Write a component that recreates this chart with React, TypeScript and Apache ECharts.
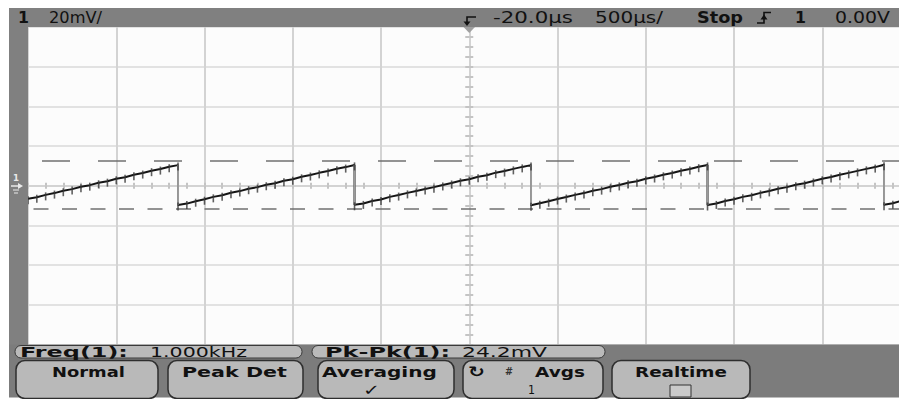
import React, { useEffect, useRef } from "react";
import * as echarts from "echarts";

// ---- scales (500 µs/div, 20 mV/div) ----
const timeMinMs = -2.5;
const timeMaxMs = 2.5;
const timeDivMs = 0.5;
const voltMinMv = -80;
const voltMaxMv = 80;
const voltDivMv = 20;

// ---- acquired trace (averaged samples) ----
const traceMs = [
  -2.5, -2.45, -2.4, -2.35, -2.3, -2.25, -2.2, -2.15, -2.1, -2.05, -2, -1.95, -1.9, -1.85, -1.8, -1.75, -1.7, -1.65,
  -1.65, -1.6, -1.55, -1.5, -1.45, -1.4, -1.35, -1.3, -1.25, -1.2, -1.15, -1.1, -1.05, -1, -0.95, -0.9, -0.85, -0.8, -0.75, -0.7, -0.65,
  -0.65, -0.6, -0.55, -0.5, -0.45, -0.4, -0.35, -0.3, -0.25, -0.2, -0.15, -0.1, -0.05, 0, 0.05, 0.1, 0.15, 0.2, 0.25, 0.3, 0.35,
  0.35, 0.4, 0.45, 0.5, 0.55, 0.6, 0.65, 0.7, 0.75, 0.8, 0.85, 0.9, 0.95, 1, 1.05, 1.1, 1.15, 1.2, 1.25, 1.3, 1.35,
  1.35, 1.4, 1.45, 1.5, 1.55, 1.6, 1.65, 1.7, 1.75, 1.8, 1.85, 1.9, 1.95, 2, 2.05, 2.1, 2.15, 2.2, 2.25, 2.3, 2.35,
  2.35, 2.4, 2.45,
];
const traceMv = [
  -6.6, -5.8, -4.6, -3.7, -2.5, -1.7, -0.5, 0.3, 1.5, 2.3, 3.5, 4.3, 5.5, 6.4, 7.6, 8.4, 9.6, 10.4,
  -9.7, -9.0, -7.8, -6.8, -5.6, -4.8, -3.5, -2.7, -1.5, -0.7, 0.5, 1.3, 2.5, 3.3, 4.5, 5.4, 6.5, 7.4, 8.6, 9.4, 10.5,
  -9.6, -8.9, -7.7, -6.9, -5.6, -4.7, -3.6, -2.6, -1.6, -0.7, 0.4, 1.4, 2.5, 3.3, 4.5, 5.3, 6.6, 7.4, 8.5, 9.5, 10.4,
  -9.8, -8.8, -7.8, -6.7, -5.7, -4.6, -3.7, -2.5, -1.7, -0.5, 0.4, 1.5, 2.3, 3.5, 4.4, 5.5, 6.4, 7.6, 8.4, 9.6, 10.5,
  -9.7, -8.9, -7.7, -6.8, -5.6, -4.8, -3.6, -2.6, -1.5, -0.7, 0.5, 1.3, 2.4, 3.5, 4.4, 5.5, 6.5, 7.5, 8.5, 9.4, 10.6,
  -9.6, -8.8, -7.6,
];

// falling edges of the sawtooth
const dropMs = [-1.65, -0.65, 0.35, 1.35, 2.35];
const dropTopMv = [10.4, 10.5, 10.4, 10.5, 10.6];
const dropBottomMv = [-9.7, -9.6, -9.8, -9.7, -9.6];

// Pk-Pk measurement cursors
const cursorMv = [12.4, -11.8];

// ---- texts ----
const headerLabels = ["1", "20mV/", "-20.0µs", "500µs/", "Stop", "1", "0.00V"];
const measureLabels = ["Freq(1):", "1.000kHz", "Pk-Pk(1):", "24.2mV"];
const softkeyLabels = ["Normal", "Peak Det", "Averaging", "Avgs", "Realtime"];
const softkeySubLabels = ["✓", "1"];

const FONT = '"DejaVu Sans", "Noto Sans", sans-serif';
let measureCtx: CanvasRenderingContext2D | null = null;
function fitText(text: string, x: number, xEnd: number, cy: number, size: number, bold: boolean, color = "#111", z = 110) {
  if (!measureCtx) measureCtx = document.createElement("canvas").getContext("2d");
  let sx = 1;
  if (measureCtx) {
    measureCtx.font = `${bold ? "bold " : ""}${size}px ${FONT}`;
    const w = measureCtx.measureText(text).width;
    if (w > 0) sx = (xEnd - x) / w;
  }
  return {
    type: "text",
    x,
    y: cy,
    scaleX: sx,
    z,
    silent: true,
    style: {
      text,
      fill: color,
      fontSize: size,
      fontWeight: bold ? "bold" : "normal",
      fontFamily: FONT,
      align: "left",
      verticalAlign: "middle",
    },
  };
}

function buildOption() {
  const gridBox = { left: 28, top: 27, width: 882.5, height: 317.5 };
  const grids = [0, 1, 2].map((i) => ({
    ...gridBox,
    show: i === 0,
    backgroundColor: "#fcfcfc",
    borderWidth: 0,
  }));
  const xBase = { type: "value", min: timeMinMs, max: timeMaxMs, interval: timeDivMs, axisLabel: { show: false } };
  const yBase = { type: "value", min: voltMinMv, max: voltMaxMv, interval: voltDivMv, axisLabel: { show: false } };
  const tickStyle = { color: "#c4c4c4", width: 2 };
  const xAxis = [
    {
      ...xBase,
      gridIndex: 0,
      axisLine: { show: false },
      axisTick: { show: false },
      splitLine: { show: true, lineStyle: { color: "#d3d3d3", width: 2 } },
    },
    ...[1, 2].map((g) => ({
      ...xBase,
      gridIndex: g,
      axisLine: { show: true, onZero: true, lineStyle: { color: "#d3d3d3", width: 2 } },
      axisTick: { show: true, inside: g === 1, length: 3, lineStyle: tickStyle },
      minorTick: { show: true, splitNumber: 5, length: 3, lineStyle: tickStyle },
      splitLine: { show: false },
    })),
  ];
  const yAxis = [
    {
      ...yBase,
      gridIndex: 0,
      axisLine: { show: false },
      axisTick: { show: false },
      splitLine: { show: true, lineStyle: { color: "#dadada", width: 1.5 } },
    },
    ...[1, 2].map((g) => ({
      ...yBase,
      gridIndex: g,
      axisLine: { show: true, onZero: true, lineStyle: { color: "#d3d3d3", width: 2 } },
      axisTick: { show: true, inside: g === 1, length: 4, lineStyle: tickStyle },
      minorTick: { show: true, splitNumber: 4, length: 4, lineStyle: tickStyle },
      splitLine: { show: false },
    })),
  ];

  const tracePairs = traceMs.map((t, i) => [t, traceMv[i]]);

  const series: any[] = [
    {
      type: "line",
      xAxisIndex: 0,
      yAxisIndex: 0,
      data: tracePairs,
      showSymbol: false,
      lineStyle: { color: "#151515", width: 2 },
      z: 5,
      markLine: {
        silent: true,
        symbol: "none",
        label: { show: false },
        data: [
          { yAxis: cursorMv[0], lineStyle: { type: [28, 28], dashOffset: 42, color: "#707070", width: 1.5 } },
          { yAxis: cursorMv[1], lineStyle: { type: [15, 13.5], dashOffset: 23, color: "#707070", width: 1.5 } },
        ],
      },
    },
    ...dropMs.map((t, i) => ({
      type: "line",
      xAxisIndex: 0,
      yAxisIndex: 0,
      data: [
        [t, dropTopMv[i]],
        [t, dropBottomMv[i]],
      ],
      showSymbol: false,
      lineStyle: { color: "#9a9a9a", width: 2 },
      z: 6,
    })),
    {
      type: "scatter",
      xAxisIndex: 0,
      yAxisIndex: 0,
      data: tracePairs,
      symbol: "rect",
      symbolSize: [1.6, 8],
      symbolOffset: [0, 1.5],
      itemStyle: { color: "#383838" },
      z: 7,
    },
  ];

  const ink = "#111";
  const graphics: any[] = [
    // frame
    { type: "rect", z: 100, silent: true, shape: { x: 9, y: 8, width: 910, height: 19 }, style: { fill: "#808080" } },
    { type: "rect", z: 100, silent: true, shape: { x: 9, y: 27, width: 19, height: 318 }, style: { fill: "#808080" } },
    { type: "rect", z: 100, silent: true, shape: { x: 9, y: 344.5, width: 910, height: 53 }, style: { fill: "#7c7c7c" } },
    // trigger position marker
    { type: "polygon", z: 105, silent: true, shape: { points: [[463.5, 27], [475, 27], [469.25, 33]] }, style: { fill: "#a0a0a0" } },
    // header
    fitText(headerLabels[0], 18, 29, 17.5, 16, true, ink),
    fitText(headerLabels[1], 49, 102, 17.5, 16, false, ink),
    { type: "polyline", z: 110, silent: true, shape: { points: [[476, 17], [467, 17], [467, 23]] }, style: { stroke: ink, lineWidth: 1.6, fill: null } },
    { type: "polygon", z: 110, silent: true, shape: { points: [[463.5, 21.5], [470.5, 21.5], [467, 26]] }, style: { fill: ink } },
    fitText(headerLabels[2], 493, 573, 17.5, 16, false, ink),
    fitText(headerLabels[3], 595, 663, 17.5, 16, false, ink),
    fitText(headerLabels[4], 697, 743, 17.5, 15, true, ink),
    { type: "polyline", z: 110, silent: true, shape: { points: [[757, 23], [764, 23], [764, 12.5], [771, 12.5]] }, style: { stroke: ink, lineWidth: 1.6, fill: null } },
    { type: "polygon", z: 110, silent: true, shape: { points: [[760.5, 19.5], [767.5, 19.5], [764, 14.5]] }, style: { fill: ink } },
    fitText(headerLabels[5], 795, 806, 17.5, 16, true, ink),
    fitText(headerLabels[6], 835, 890, 17.5, 16, false, ink),
    // ground marker
    fitText("1", 13, 19, 178, 8, true, "#eaeaea"),
    { type: "line", z: 110, silent: true, shape: { x1: 11, y1: 186, x2: 20, y2: 186 }, style: { stroke: "#eaeaea", lineWidth: 1.5 } },
    { type: "polygon", z: 110, silent: true, shape: { points: [[18, 183], [23, 186], [18, 189]] }, style: { fill: "#eaeaea" } },
    { type: "line", z: 110, silent: true, shape: { x1: 13, y1: 190, x2: 19, y2: 190 }, style: { stroke: "#eaeaea", lineWidth: 1 } },
    { type: "line", z: 110, silent: true, shape: { x1: 14, y1: 193, x2: 18, y2: 193 }, style: { stroke: "#eaeaea", lineWidth: 1 } },
    // measurement boxes
    { type: "rect", z: 105, silent: true, shape: { x: 15, y: 345.5, width: 287, height: 12.5, r: 6 }, style: { fill: "#bababa", stroke: "#3a3a3a", lineWidth: 1 } },
    { type: "rect", z: 105, silent: true, shape: { x: 312, y: 345.5, width: 293, height: 12.5, r: 6 }, style: { fill: "#bababa", stroke: "#3a3a3a", lineWidth: 1 } },
    fitText(measureLabels[0], 20, 128, 352, 14, true, ink),
    fitText(measureLabels[1], 150, 247, 352, 14, false, ink),
    fitText(measureLabels[2], 325, 450, 352, 14, true, ink),
    fitText(measureLabels[3], 462, 547, 352, 14, false, ink),
    // softkeys
    ...[
      [16, 142],
      [168, 135],
      [318, 136],
      [463, 140],
      [612, 138],
    ].map(([x, w]) => ({
      type: "rect",
      z: 105,
      silent: true,
      shape: { x, y: 360.5, width: w, height: 38, r: 9 },
      style: { fill: "#b9b9b9", stroke: "#2e2e2e", lineWidth: 1.5 },
    })),
    fitText(softkeyLabels[0], 52, 125, 372, 14, true, ink),
    fitText(softkeyLabels[1], 182, 287, 372, 14, true, ink),
    fitText(softkeyLabels[2], 322, 437, 372, 14, true, ink),
    fitText(softkeySubLabels[0], 363, 380, 390, 15, true, ink),
    fitText("↻", 468, 485, 372, 15, true, ink),
    fitText("#", 505, 513, 371, 10, true, "#333"),
    fitText(softkeyLabels[3], 535, 585, 372, 14, true, ink),
    fitText(softkeySubLabels[1], 528, 535, 390, 13, false, ink),
    fitText(softkeyLabels[4], 635, 727, 372, 14, true, ink),
    { type: "rect", z: 110, silent: true, shape: { x: 670, y: 385, width: 21, height: 12 }, style: { fill: "#cacaca", stroke: "#333", lineWidth: 1 } },
  ];

  return {
    animation: false,
    backgroundColor: "#ffffff",
    grid: grids,
    xAxis,
    yAxis,
    series,
    graphic: { elements: graphics },
  };
}

export default function App() {
  const ref = useRef<HTMLDivElement>(null);
  useEffect(() => {
    if (!ref.current) return;
    const chart = echarts.init(ref.current, undefined, { renderer: "svg" });
    chart.setOption(buildOption() as any);
    return () => chart.dispose();
  }, []);
  return (
    <div style={{ position: "absolute", left: 0, top: 0, width: 899, height: 399, overflow: "hidden", background: "#fff" }}>
      <div ref={ref} style={{ width: 912, height: 399 }} />
    </div>
  );
}
